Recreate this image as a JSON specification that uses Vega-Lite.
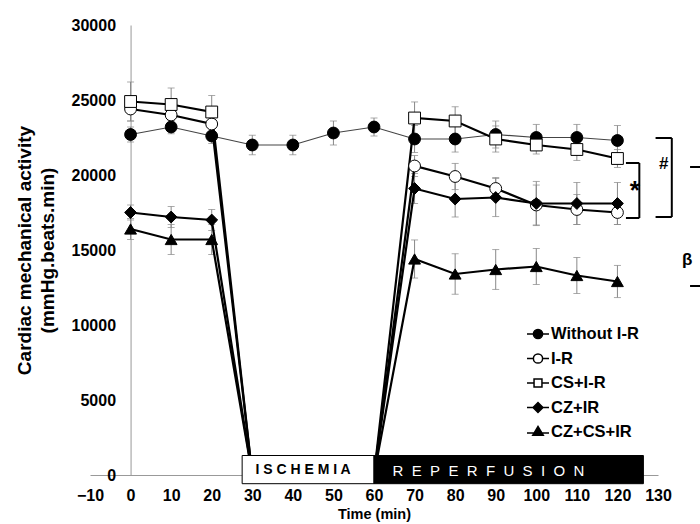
{
  "$schema": "https://vega.github.io/schema/vega-lite/v6.json",
  "width": 568,
  "height": 450,
  "autosize": {"type": "none"},
  "padding": {"left": 90, "top": 25, "right": 42, "bottom": 49},
  "config": {
    "view": {"stroke": null},
    "font": "Liberation Sans",
    "axis": {"grid": false, "ticks": false, "domainColor": "#999999", "domainWidth": 1, "labelColor": "#000000", "labelFont": "Liberation Sans", "labelFontWeight": "bold", "labelFontSize": 16, "titleFont": "Liberation Sans", "titleFontWeight": "bold", "titleColor": "#000000"}
  },
  "resolve": {"scale": {"shape": "independent", "fill": "independent"}},
  "datasets": {
    "series": [
      {"group": "Without I-R", "t": 0, "v": 22700, "err": 500},
      {"group": "Without I-R", "t": 10, "v": 23200, "err": 450},
      {"group": "Without I-R", "t": 20, "v": 22600, "err": 500},
      {"group": "Without I-R", "t": 30, "v": 22000, "err": 650},
      {"group": "Without I-R", "t": 40, "v": 22000, "err": 650},
      {"group": "Without I-R", "t": 50, "v": 22800, "err": 800},
      {"group": "Without I-R", "t": 60, "v": 23200, "err": 600},
      {"group": "Without I-R", "t": 70, "v": 22400, "err": 900},
      {"group": "Without I-R", "t": 80, "v": 22400, "err": 870},
      {"group": "Without I-R", "t": 90, "v": 22700, "err": 900},
      {"group": "Without I-R", "t": 100, "v": 22500, "err": 870},
      {"group": "Without I-R", "t": 110, "v": 22500, "err": 870},
      {"group": "Without I-R", "t": 120, "v": 22300, "err": 1000},
      {"group": "I-R", "t": 0, "v": 24400, "err": 800},
      {"group": "I-R", "t": 10, "v": 24000, "err": 700},
      {"group": "I-R", "t": 20, "v": 23400, "err": 700},
      {"group": "I-R", "t": 30, "v": 0, "err": 0},
      {"group": "I-R", "t": 60, "v": 0, "err": 0},
      {"group": "I-R", "t": 70, "v": 20600, "err": 700},
      {"group": "I-R", "t": 80, "v": 19900, "err": 870},
      {"group": "I-R", "t": 90, "v": 19100, "err": 730},
      {"group": "I-R", "t": 100, "v": 18000, "err": 1330},
      {"group": "I-R", "t": 110, "v": 17700, "err": 1000},
      {"group": "I-R", "t": 120, "v": 17500, "err": 800},
      {"group": "CS+I-R", "t": 0, "v": 24900, "err": 1300},
      {"group": "CS+I-R", "t": 10, "v": 24700, "err": 1100},
      {"group": "CS+I-R", "t": 20, "v": 24200, "err": 1100},
      {"group": "CS+I-R", "t": 30, "v": 0, "err": 0},
      {"group": "CS+I-R", "t": 60, "v": 0, "err": 0},
      {"group": "CS+I-R", "t": 70, "v": 23800, "err": 1070},
      {"group": "CS+I-R", "t": 80, "v": 23600, "err": 950},
      {"group": "CS+I-R", "t": 90, "v": 22400, "err": 870},
      {"group": "CS+I-R", "t": 100, "v": 22000, "err": 600},
      {"group": "CS+I-R", "t": 110, "v": 21700, "err": 730},
      {"group": "CS+I-R", "t": 120, "v": 21100, "err": 600},
      {"group": "CZ+IR", "t": 0, "v": 17500, "err": 500},
      {"group": "CZ+IR", "t": 10, "v": 17200, "err": 700},
      {"group": "CZ+IR", "t": 20, "v": 17000, "err": 700},
      {"group": "CZ+IR", "t": 30, "v": 0, "err": 0},
      {"group": "CZ+IR", "t": 60, "v": 0, "err": 0},
      {"group": "CZ+IR", "t": 70, "v": 19100, "err": 1000},
      {"group": "CZ+IR", "t": 80, "v": 18400, "err": 1200},
      {"group": "CZ+IR", "t": 90, "v": 18500, "err": 1270},
      {"group": "CZ+IR", "t": 100, "v": 18100, "err": 1470},
      {"group": "CZ+IR", "t": 110, "v": 18100, "err": 1400},
      {"group": "CZ+IR", "t": 120, "v": 18100, "err": 1400},
      {"group": "CZ+CS+IR", "t": 0, "v": 16400, "err": 700},
      {"group": "CZ+CS+IR", "t": 10, "v": 15700, "err": 1000},
      {"group": "CZ+CS+IR", "t": 20, "v": 15700, "err": 1000},
      {"group": "CZ+CS+IR", "t": 30, "v": 0, "err": 0},
      {"group": "CZ+CS+IR", "t": 60, "v": 0, "err": 0},
      {"group": "CZ+CS+IR", "t": 70, "v": 14400, "err": 1270},
      {"group": "CZ+CS+IR", "t": 80, "v": 13400, "err": 1350},
      {"group": "CZ+CS+IR", "t": 90, "v": 13700, "err": 1330},
      {"group": "CZ+CS+IR", "t": 100, "v": 13900, "err": 1200},
      {"group": "CZ+CS+IR", "t": 110, "v": 13300, "err": 1200},
      {"group": "CZ+CS+IR", "t": 120, "v": 12900, "err": 1070}
    ],
    "boxes": [
      {"phase": "ischemia", "t": 27.5, "t2": 60, "v": 1300, "v2": -580},
      {"phase": "reperfusion", "t": 60, "t2": 126.4, "v": 1300, "v2": -580}
    ],
    "texts": [
      {"kind": "ischemia", "label": "I S C H E M I A", "t": 42.5, "v": 360},
      {"kind": "reperfusion", "label": "R\u00a0\u00a0E\u00a0\u00a0P\u00a0\u00a0E\u00a0\u00a0R\u00a0\u00a0F\u00a0\u00a0U\u00a0\u00a0S\u00a0\u00a0I\u00a0\u00a0O\u00a0\u00a0N", "t": 88.2, "v": 300},
      {"kind": "sign", "label": "#", "t": 131.4, "v": 20733},
      {"kind": "sign", "label": "\u03b2", "t": 137.2, "v": 14333},
      {"kind": "star", "label": "*", "t": 124.3, "v": 18400}
    ],
    "brackets": [
      {"t": 133.4, "v": 22467, "t2": 133.4, "v2": 17200},
      {"t": 129.4, "v": 22467, "t2": 133.4, "v2": 22467},
      {"t": 129.4, "v": 17200, "t2": 133.4, "v2": 17200},
      {"t": 125.4, "v": 20800, "t2": 125.4, "v2": 17133},
      {"t": 122.1, "v": 20800, "t2": 125.4, "v2": 20800},
      {"t": 122.1, "v": 17133, "t2": 125.4, "v2": 17133},
      {"t": 137.9, "v": 20533, "t2": 140.4, "v2": 20533},
      {"t": 137.9, "v": 12600, "t2": 140.4, "v2": 12600}
    ]
  },
  "encoding": {
    "x": {
      "field": "t", "type": "quantitative",
      "scale": {"domain": [-10, 130], "nice": false, "zero": false},
      "axis": {"title": "Time (min)", "titleFontSize": 14.5, "titlePadding": 4, "values": [-10, 0, 10, 20, 30, 40, 50, 60, 70, 80, 90, 100, 110, 120, 130], "labelPadding": 12, "labelFlush": false, "labelOverlap": false}
    },
    "y": {
      "field": "v", "type": "quantitative",
      "scale": {"domain": [0, 30000], "nice": false, "zero": false},
      "axis": {"title": ["Cardiac mechanical activity", "(mmHg.beats.min)"], "titleFontSize": 19, "titleLineHeight": 23, "titleAngle": -90, "titleAlign": "center", "titleBaseline": "middle", "titleX": -106.5, "titleY": 225, "offset": -40.57, "values": [0, 5000, 10000, 15000, 20000, 25000, 30000], "labelPadding": 15, "format": "d"}
    }
  },
  "layer": [
    {
      "data": {"name": "series"},
      "transform": [{"filter": "datum.v > 0"}],
      "mark": {"type": "errorbar", "ticks": {"size": 7, "color": "#888888", "strokeWidth": 1}, "rule": {"color": "#888888", "strokeWidth": 1}},
      "encoding": {"yError": {"field": "err"}, "detail": {"field": "group"}}
    },
    {
      "data": {"name": "series"},
      "transform": [{"filter": "datum.group === 'Without I-R'"}],
      "mark": {"type": "line", "color": "#444444", "strokeWidth": 1.2},
      "encoding": {}
    },
    {
      "data": {"name": "series"},
      "transform": [{"filter": "datum.group !== 'Without I-R'"}],
      "mark": {"type": "line", "color": "#000000", "strokeWidth": 2.2},
      "encoding": {"detail": {"field": "group"}}
    },
    {
      "data": {"name": "series"},
      "transform": [{"filter": "datum.v > 0"}],
      "mark": {"type": "point", "filled": true, "stroke": "#000000", "strokeWidth": 1, "size": 140, "opacity": 1},
      "encoding": {
        "shape": {
          "field": "group", "type": "nominal",
          "scale": {"domain": ["Without I-R", "I-R", "CS+I-R", "CZ+IR", "CZ+CS+IR"], "range": ["circle", "circle", "square", "diamond", "triangle-up"]},
          "legend": null
        },
        "fill": {
          "field": "group", "type": "nominal",
          "scale": {"domain": ["Without I-R", "I-R", "CS+I-R", "CZ+IR", "CZ+CS+IR"], "range": ["#000000", "#ffffff", "#ffffff", "#000000", "#000000"]},
          "legend": null
        }
      }
    },
    {
      "data": {"name": "series"},
      "transform": [{"filter": "datum.t === 0"}],
      "mark": {"type": "point", "filled": true, "stroke": "#000000", "strokeWidth": 1.5, "size": 0, "opacity": 1},
      "encoding": {
        "shape": {
          "field": "group", "type": "nominal",
          "scale": {"domain": ["Without I-R", "I-R", "CS+I-R", "CZ+IR", "CZ+CS+IR"], "range": [
            "M-1,0H1M-0.42,0C-0.42,-0.232,-0.232,-0.42,0,-0.42C0.232,-0.42,0.42,-0.232,0.42,0C0.42,0.232,0.232,0.42,0,0.42C-0.232,0.42,-0.42,0.232,-0.42,0Z",
            "M-1,0H-0.42M0.42,0H1M-0.42,0C-0.42,-0.232,-0.232,-0.42,0,-0.42C0.232,-0.42,0.42,-0.232,0.42,0C0.42,0.232,0.232,0.42,0,0.42C-0.232,0.42,-0.42,0.232,-0.42,0Z",
            "M-1,0H-0.36M0.36,0H1M-0.36,-0.36H0.36V0.36H-0.36Z",
            "M-1,0H1M-0.45,0L0,-0.45L0.45,0L0,0.45Z",
            "M-1,0.1H1M-0.48,0.3L0,-0.5L0.48,0.3Z"
          ]},
          "legend": {
            "title": null, "orient": "none", "legendX": 436, "legendY": 297, "padding": 0,
            "symbolSize": 484, "rowPadding": 3.5, "labelFontSize": 16.5, "labelFont": "Liberation Sans", "labelFontWeight": "bold", "labelColor": "#000000", "labelOffset": 1, "symbolStrokeWidth": 1.5
          }
        },
        "fill": {
          "field": "group", "type": "nominal",
          "scale": {"domain": ["Without I-R", "I-R", "CS+I-R", "CZ+IR", "CZ+CS+IR"], "range": ["#000000", "#ffffff", "#ffffff", "#000000", "#000000"]},
          "legend": {
            "title": null, "orient": "none", "legendX": 436, "legendY": 297, "padding": 0,
            "symbolSize": 484, "rowPadding": 3.5, "labelFontSize": 16.5, "labelFont": "Liberation Sans", "labelFontWeight": "bold", "labelColor": "#000000", "labelOffset": 1, "symbolStrokeWidth": 1.5
          }
        }
      }
    },
    {
      "data": {"name": "boxes"},
      "transform": [{"filter": "datum.phase === 'ischemia'"}],
      "mark": {"type": "rect", "fill": "#ffffff", "stroke": "#000000", "strokeWidth": 1},
      "encoding": {"x2": {"field": "t2"}, "y2": {"field": "v2"}}
    },
    {
      "data": {"name": "boxes"},
      "transform": [{"filter": "datum.phase === 'reperfusion'"}],
      "mark": {"type": "rect", "fill": "#000000", "stroke": "#000000", "strokeWidth": 1},
      "encoding": {"x2": {"field": "t2"}, "y2": {"field": "v2"}}
    },
    {
      "data": {"name": "texts"},
      "transform": [{"filter": "datum.kind === 'ischemia'"}],
      "mark": {"type": "text", "font": "Liberation Sans", "fontWeight": "bold", "fontSize": 14, "color": "#000000", "align": "center", "baseline": "middle"},
      "encoding": {"text": {"field": "label"}}
    },
    {
      "data": {"name": "texts"},
      "transform": [{"filter": "datum.kind === 'reperfusion'"}],
      "mark": {"type": "text", "font": "Liberation Sans", "fontSize": 15, "color": "#ffffff", "align": "center", "baseline": "middle"},
      "encoding": {"text": {"field": "label"}}
    },
    {
      "data": {"name": "texts"},
      "transform": [{"filter": "datum.kind === 'sign'"}],
      "mark": {"type": "text", "font": "Liberation Sans", "fontWeight": "bold", "fontSize": 17, "color": "#000000", "align": "center", "baseline": "middle"},
      "encoding": {"text": {"field": "label"}}
    },
    {
      "data": {"name": "texts"},
      "transform": [{"filter": "datum.kind === 'star'"}],
      "mark": {"type": "text", "font": "Liberation Sans", "fontWeight": "bold", "fontSize": 26, "color": "#000000", "align": "center", "baseline": "alphabetic"},
      "encoding": {"text": {"field": "label"}}
    },
    {
      "data": {"name": "brackets"},
      "mark": {"type": "rule", "color": "#000000", "strokeWidth": 2},
      "encoding": {"x2": {"field": "t2"}, "y2": {"field": "v2"}}
    }
  ]
}
